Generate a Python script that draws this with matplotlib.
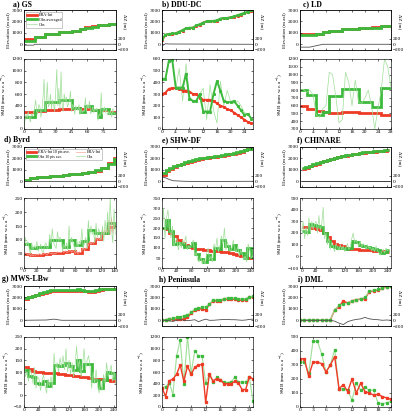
import matplotlib
matplotlib.use('Agg')
import matplotlib.pyplot as plt
import numpy as np

plt.rcParams['font.family'] = ['Liberation Serif', 'DejaVu Serif']
plt.rcParams['mathtext.fontset'] = 'stix'

RED = '#ee3b26'
GREEN = '#3dba3d'
LGREEN = '#9fdf98'
LRED = '#f5a89c'
GREY = '#505050'

# ---------------- a) GS ----------------
edges_a = [0, 10, 20, 33, 45, 53, 58, 64, 70, 73, 80, 87]
elev_era_a = [450, 650, 900, 1050, 1200, 1320, 1480, 1580, 1700, 1720, 1800]
elev_obs_a = [300, 620, 880, 1050, 1200, 1300, 1450, 1550, 1650, 1700, 1800]
smb_era_a = [300, 310, 330, 350, 360, 340, 350, 320, 300, 320, 300]
smb_obs_a = [200, 330, 460, 490, 360, 300, 390, 330, 210, 340, 280]
raw_obs_a = [40, 150, 250, 180, 300, 200, 120, 260, 220, 280,
             350, 500, 300, 250, 420, 380, 200, 330, 550, 850,
             300, 450, 800, 380, 420, 600, 350, 500, 420, 300, 650, 1020, 400,
             700, 350, 980, 450, 300, 600, 480, 550, 380, 420, 500, 650,
             300, 420, 380, 250, 400, 350, 320, 420,
             250, 350, 280, 320, 300,
             540, 300, 420, 350, 480, 260,
             300, 380, 280, 350, 320, 360,
             150, 250, 230,
             620, 250, 300, 380, 280, 350, 240,
             300, 250, 320, 200, 350, 280, 260]
dz_x_a = [0, 9, 10, 87]
dz_a = [-30, -30, 0, 0]

# ---------------- b) DDU-DC ----------------
x_b = list(range(27))
elev_era_b = [350, 800, 900, 900, 950, 1100, 1200, 1400, 1400, 1450, 1600, 1700, 1900, 2000,
              2000, 2000, 2050, 2200, 2300, 2300, 2350, 2400, 2500, 2600, 2700, 2850, 2950]
elev_obs_b = [450, 850, 900, 950, 950, 1100, 1250, 1400, 1450, 1450, 1650, 1750, 1900, 2000,
              2000, 2050, 2100, 2250, 2300, 2300, 2350, 2450, 2550, 2650, 2750, 2850, 3000]
smb_era_b = [300, 310, 345, 350, 350, 345, 330, 330, 320, 300, 300, 270, 250, 250,
             250, 240, 220, 200, 190, 170, 160, 140, 120, 100, 80, 60, 50]
smb_obs_b = [430, 430, 585, 590, 355, 355, 355, 475, 260, 240, 240, 300, 150, 150,
             150, 300, 410, 330, 240, 230, 230, 240, 200, 160, 120, 130, 90]
raw_obs_b = [430, 430, 580, 600, 340, 520, 240, 560, 280, 240, 250, 300, 350, 80,
             380, 160, 50, 410, 200, 330, 230, 220, 240, 200, 140, 130, 80]
dz_x_b = [0, 1, 2, 26]
dz_b = [-60, 20, 10, 0]

# ---------------- c) LD ----------------
edges_c = [0, 2, 5, 7, 9, 13, 18, 22, 25, 28]
elev_era_c = [880, 880, 900, 1050, 1200, 1300, 1400, 1500, 1600]
elev_obs_c = [820, 850, 870, 1050, 1200, 1300, 1400, 1450, 1600]
smb_era_c = [590, 560, 530, 520, 510, 520, 510, 500, 480]
smb_obs_c = [800, 740, 480, 520, 720, 820, 650, 580, 830]
raw_obs_c = [800, 810, 770, 800, 740, 480, 450, 560, 600, 1030, 1000, 720, 380, 420, 1030,
             900, 600, 930, 650, 630, 700, 800, 600, 300, 570, 800, 1200, 1100, 830]
dz_x_c = [0, 3, 7, 28]
dz_c = [-100, -100, 0, 0]

# ---------------- d) Byrd ----------------
edges_d = [0, 10, 20, 30, 40, 50, 60, 70, 80, 90, 100, 110, 120, 130, 140, 143]
elev_era_d = [100, 250, 350, 400, 450, 500, 550, 600, 650, 700, 800, 900, 1200, 1600, 2000]
elev_obs_d = [150, 250, 350, 400, 450, 500, 550, 620, 680, 720, 820, 950, 1150, 1550, 1950]
smb_era_d = [50, 45, 48, 50, 52, 55, 58, 60, 55, 68, 88, 102, 125, 145, 150]
smb_obs_d = [85, 72, 75, 75, 100, 100, 75, 100, 83, 95, 135, 125, 125, 160, 145]
raw_obs_d = [60, 110, 80, 95, 70, 50, 90, 65, 80, 70, 95, 60, 70, 85, 60,
             55, 80, 90, 70, 75, 120, 85, 140, 90, 80, 70, 130, 95, 110, 95,
             60, 85, 70, 90, 65, 150, 80, 110, 90, 75, 60, 100, 75, 95, 85,
             140, 70, 90, 110, 70, 170, 110, 150, 120, 130, 90, 160, 110, 140, 125,
             100, 150, 95, 170, 120, 200, 120, 250, 140, 90, 210, 120]
raw_era_d = [45, 55, 50, 48, 52, 42, 48, 44, 47, 45, 50, 45, 52, 46, 48,
             48, 53, 50, 47, 52, 55, 50, 54, 49, 52, 52, 58, 54, 57, 54,
             60, 55, 62, 56, 57, 58, 63, 57, 62, 60, 52, 60, 50, 58, 55,
             60, 75, 62, 72, 70, 80, 95, 85, 92, 88, 95, 110, 98, 108, 100,
             110, 140, 115, 135, 125, 130, 170, 120, 180, 125, 160, 140]
dz_x_d = [0, 143]
dz_d = [0, 0]

# ---------------- e) SHW-DF ----------------
edges_e = list(range(0, 241, 10)) + [245]
elev_era_e = [550, 900, 1100, 1250, 1400, 1500, 1600, 1700, 1800, 1900, 1950, 2000, 2050,
              2100, 2150, 2200, 2250, 2300, 2350, 2400, 2500, 2600, 2700, 2800, 2900]
elev_obs_e = [700, 1000, 1150, 1300, 1450, 1550, 1650, 1750, 1850, 1950, 2000, 2050, 2100,
              2150, 2200, 2250, 2300, 2350, 2400, 2450, 2550, 2650, 2750, 2850, 2950]
smb_era_e = [200, 195, 175, 160, 140, 125, 115, 105, 100, 95, 93, 90, 88,
             86, 85, 83, 80, 78, 75, 70, 65, 60, 55, 52, 50]
smb_obs_e = [200, 240, 185, 120, 125, 120, 105, 110, 125, 70, 45, 30, 65,
             45, 100, 95, 140, 110, 95, 115, 90, 75, 50, 100, 55]
raw_obs_e = [180, 300, 150, 250, 290, 200, 150, 210, 110, 130, 150, 90, 130, 100, 140,
             120, 160, 90, 110, 100, 120, 140, 60, 80, 40, 30, 60, 20, 40, 20,
             70, 100, 40, 60, 30, 120, 90, 150, 80, 110, 160, 120, 200, 90, 130,
             110, 80, 100, 140, 90, 80, 110, 60, 90, 70, 40, 60, 30, 120, 90, 50, 60]
dz_x_e = [0, 10, 20, 30, 60, 100, 245]
dz_e = [150, 120, 60, 20, 0, -10, 0]

# ---------------- f) CHINARE ----------------
edges_f = list(range(0, 241, 10)) + [245]
elev_era_f = [1100, 1200, 1350, 1450, 1550, 1650, 1750, 1850, 1950, 2050, 2100, 2200, 2250,
              2300, 2350, 2400, 2450, 2500, 2520, 2550, 2600, 2620, 2650, 2680, 2700]
elev_obs_f = [1130, 1250, 1380, 1480, 1580, 1680, 1780, 1880, 1980, 2080, 2130, 2230, 2280,
              2330, 2380, 2430, 2480, 2530, 2550, 2580, 2630, 2650, 2680, 2710, 2730]
smb_era_f = [250, 250, 245, 240, 235, 225, 200, 170, 130, 110, 95, 85, 75,
             65, 62, 60, 58, 55, 52, 50, 48, 45, 42, 40, 40]
smb_obs_f = [220, 210, 280, 270, 260, 250, 200, 130, 90, 80, 75, 70, 65,
             70, 130, 120, 100, 90, 80, 70, 60, 50, 30, 40, 50]
raw_obs_f = [220, 300, 150, 250, 180, 330, 200, 300, 230, 280, 300, 200, 350, 220, 280,
             420, 150, 200, 100, 160, 60, 120, 90, 40, 110, 80, 50, 100, 60, 90,
             40, 80, 110, 60, 80, 150, 200, 120, 140, 110, 90, 130, 80, 110, 90,
             60, 100, 70, 80, 50, 70, 40, 90, 50, 30, 10, 40, 60, 30, 70, 50, 60]
dz_x_f = [0, 245]
dz_f = [0, 0]

# ---------------- g) MWS-LBw ----------------
edges_g = list(range(0, 241, 10)) + [245]
elev_era_g = [1900, 2000, 2100, 2200, 2300, 2400, 2500, 2600, 2600, 2600, 2600, 2600, 2600,
              2600, 2650, 2600, 2550, 2500, 2500, 2600, 2650, 2700, 2700, 2700, 2700]
elev_obs_g = [1950, 2050, 2150, 2250, 2350, 2450, 2550, 2650, 2650, 2650, 2650, 2650, 2650,
              2650, 2700, 2650, 2600, 2550, 2550, 2650, 2700, 2750, 2750, 2750, 2750]
smb_era_g = [120, 112, 105, 100, 98, 97, 96, 95, 94, 92, 90, 88, 86,
             84, 82, 80, 78, 75, 72, 70, 68, 66, 64, 63, 62]
smb_obs_g = [110, 85, 80, 55, 50, 60, 40, 55, 130, 125, 130, 140, 125,
             110, 150, 105, 135, 135, 60, 65, 30, 65, 100, 95, 75]
raw_obs_g = [150, 80, 100, 60, 110, 90, 50, 120, 30, 80, 70, 20, 60, 90, 40,
             10, 70, 40, 80, 30, 180, 110, 140, 100, 160, 120, 170, 110, 200, 100,
             150, 90, 140, 80, 130, 210, 120, 150, 80, 130, 200, 110, 150, 170, 120,
             30, 100, 50, 110, 40, 10, 60, 20, 90, 50, 140, 80, 100, 130, 60, 100, 50]
dz_x_g = [0, 60, 80, 100, 245]
dz_g = [0, 10, 40, 0, 0]

# ---------------- h) Peninsula ----------------
x_h = list(range(26))
elev_era_h = [50, 20, 100, 80, 100, 80, 100, 250, 600, 900, 1000, 1000, 900, 1400, 1700, 1700,
              1700, 1850, 1850, 1850, 1850, 1750, 1750, 1750, 2000, 2050]
elev_obs_h = [30, 50, 150, 200, 250, 300, 400, 500, 700, 1000, 1100, 1150, 1200, 1400, 1800,
              1800, 1800, 1900, 1950, 1950, 1950, 1900, 1900, 1900, 2050, 2100]
smb_era_h = [330, 180, 450, 480, 560, 720, 440, 700, 560, 680, 720, 730, 80, 560, 450, 480,
             470, 400, 400, 400, 440, 410, 300, 300, 520, 480]
smb_obs_h = [330, 350, 420, 210, 870, 1150, 400, 1200, 580, 960, 880, 880, 420, 550, 430,
             510, 460, 430, 420, 430, 510, 430, 430, 430, 510, 100]
dz_h = [0, 0, -20, -40, 0, 20, 0, -10, 0, 20, -50, 0, 40, 0, 0, 10, 20, 30, 30, 20, 20,
        10, 0, 10, 30, 40]

# ---------------- i) DML ----------------
x_i = list(range(22))
elev_era_i = [30, 30, 30, 30, 30, 30, 30, 30, 900, 1200, 1700, 1500, 1700, 1800, 1850, 1900,
              2500, 2600, 2650, 2800, 2950, 3000]
elev_obs_i = [60, 60, 60, 60, 60, 60, 60, 60, 900, 1300, 1400, 1500, 1700, 1800, 1900, 2000,
              2550, 2650, 2700, 2850, 2950, 3000]
smb_era_i = [345, 345, 220, 320, 320, 310, 250, 300, 360, 130, 160, 110, 200, 100, 170, 110,
             100, 85, 90, 75, 65, 55]
smb_obs_i = [320, 320, 240, 470, 470, 380, 250, 300, 410, 130, 130, 120, 50, 170, 120, 140,
             120, 120, 30, 25, 30, 40]
dz_i = [0, 0, 0, 0, 0, 0, 0, 0, -30, -100, -150, -50, 0, 30, 50, 100, 50, 30, 20, 0, 10, 0]

titles = ['a) GS', 'b) DDU-DC', 'c) LD', 'd) Byrd', 'e) SHW-DF', 'f) CHINARE',
          'g) MWS-LBw', 'h) Peninsula', 'i) DML']

W, H = 404, 420
fig = plt.figure(figsize=(W / 100, H / 100), dpi=100)
fig.patch.set_facecolor('white')


def pos(l, t, w, h):
    return [l / W, 1 - (t + h) / H, w / W, h / H]


col_l = [24, 162, 300]
col_w = [92, 91, 91]
up_t = [10, 147, 286]
lo_t = [59, 198, 337]
title_xy = [(13, 4), (162, 4), (303, 4), (4, 140), (162, 140), (297, 140),
            (2, 279), (159, 279), (298, 279)]

FS = 3.9


def style(ax, right=True):
    ax.tick_params(direction='in', length=1.6, width=0.4, labelsize=FS, pad=1.0,
                   top=True, right=right)
    for s in ax.spines.values():
        s.set_linewidth(0.45)


def make(idx):
    r, c = divmod(idx, 3)
    ax_e = fig.add_axes(pos(col_l[c], up_t[r], col_w[c], 40))
    ax_s = fig.add_axes(pos(col_l[c], lo_t[r], col_w[c], 70))
    ax_d = ax_e.twinx()
    style(ax_e, right=False)
    style(ax_s)
    style(ax_d)
    ax_d.tick_params(left=False)
    ax_e.set_ylim(-500, 3000)
    ax_e.set_yticks([0, 1000, 2000, 3000])
    ax_d.set_ylim(-200, 1200)
    ax_d.set_yticks([-200, 0, 200])
    ax_e.set_xticklabels([])
    ax_e.set_ylabel('Elevation (m asl)', fontsize=FS - 0.2, labelpad=1.0)
    ax_d.set_ylabel('ΔZ (m)', fontsize=FS - 0.2, rotation=270, labelpad=5)
    ax_d.yaxis.set_label_coords(1.12, 0.72)
    ax_s.set_ylabel('SMB (mm w.e. a$^{-1}$)', fontsize=FS - 0.2, labelpad=1.0)
    tx, ty = title_xy[idx]
    fig.text(tx / W, 1 - ty / H, titles[idx], fontsize=5.6, fontweight='bold', va='center')
    return ax_e, ax_d, ax_s


def finish(ax_e, ax_s, xlim, xticks, ylim, yticks):
    for ax in (ax_e, ax_s):
        ax.set_xlim(*xlim)
        ax.set_xticks(xticks)
    ax_e.set_xticklabels([])
    ax_s.set_ylim(*ylim)
    ax_s.set_yticks(yticks)


LW = 2.0

# a
ax_e, ax_d, ax_s = make(0)
h1 = ax_e.stairs(elev_era_a, edges_a, baseline=None, color=RED, lw=LW, label='ERA-Int')
h2 = ax_e.stairs(elev_obs_a, edges_a, baseline=None, color=GREEN, lw=LW, label='Obs averaged')
ax_d.plot(dz_x_a, dz_a, color=GREY, lw=0.6)
ax_s.plot(np.arange(len(raw_obs_a)), raw_obs_a, color=LGREEN, lw=0.5)
ax_s.stairs(smb_era_a, edges_a, baseline=None, color=RED, lw=LW)
ax_s.stairs(smb_obs_a, edges_a, baseline=None, color=GREEN, lw=LW)
h3, = ax_e.plot([], [], color=LGREEN, lw=0.5, label='Obs')
ax_e.legend(handles=[h1, h2, h3], loc='upper left', fontsize=3.0, frameon=True,
            fancybox=False, edgecolor='#888888', handlelength=2.2, borderpad=0.3,
            labelspacing=0.15, handletextpad=0.5).get_frame().set_linewidth(0.4)
finish(ax_e, ax_s, (0, 87), [0, 15, 30, 45, 60, 75], (0, 1200), range(0, 1201, 200))

# b
ax_e, ax_d, ax_s = make(1)
ax_e.plot(x_b, elev_era_b, color=RED, lw=1.4, marker='s', ms=1.2)
ax_e.plot(x_b, elev_obs_b, color=GREEN, lw=1.4, marker='s', ms=1.2)
ax_d.plot(dz_x_b, dz_b, color=GREY, lw=0.6)
ax_s.plot(x_b, raw_obs_b, color=LGREEN, lw=0.5)
ax_s.plot(x_b, smb_era_b, color=RED, lw=1.4, marker='s', ms=1.2)
ax_s.plot(x_b, smb_obs_b, color=GREEN, lw=1.4, marker='s', ms=1.2)
finish(ax_e, ax_s, (0, 26.5), range(0, 25, 4), (0, 600), range(0, 601, 100))

# c
ax_e, ax_d, ax_s = make(2)
ax_e.stairs(elev_era_c, edges_c, baseline=None, color=RED, lw=LW)
ax_e.stairs(elev_obs_c, edges_c, baseline=None, color=GREEN, lw=LW)
ax_d.plot(dz_x_c, dz_c, color=GREY, lw=0.6)
ax_s.plot(np.arange(len(raw_obs_c)), raw_obs_c, color=LGREEN, lw=0.5)
ax_s.stairs(smb_era_c, edges_c, baseline=None, color=RED, lw=LW)
ax_s.stairs(smb_obs_c, edges_c, baseline=None, color=GREEN, lw=LW)
finish(ax_e, ax_s, (0, 28), range(0, 29, 4), (300, 1200), range(300, 1201, 100))

# d
ax_e, ax_d, ax_s = make(3)
h1 = ax_e.stairs(elev_era_d, edges_d, baseline=None, color=RED, lw=LW, label='ERA-Int 10 pts ave.')
h2 = ax_e.stairs(elev_obs_d, edges_d, baseline=None, color=GREEN, lw=LW, label='Obs 10 pts ave.')
ax_d.plot(dz_x_d, dz_d, color=GREY, lw=0.6)
xr_d = np.arange(0, 143, 2)
h3, = ax_s.plot(xr_d, raw_era_d, color=LRED, lw=0.5, label='ERA-Int')
h4, = ax_s.plot(xr_d, raw_obs_d, color=LGREEN, lw=0.5, ls='-', label='Obs')
ax_s.stairs(smb_era_d, edges_d, baseline=None, color=RED, lw=LW)
ax_s.stairs(smb_obs_d, edges_d, baseline=None, color=GREEN, lw=LW)
leg = ax_e.legend(handles=[h1, h2, h3, h4], loc='upper left', ncol=2, fontsize=2.9,
                  frameon=True, fancybox=False, edgecolor='#888888', handlelength=2.2,
                  borderpad=0.3, labelspacing=0.15, handletextpad=0.5, columnspacing=1.5)
leg.get_frame().set_linewidth(0.4)
finish(ax_e, ax_s, (0, 143), range(0, 141, 20), (0, 250), range(0, 251, 50))

# e
ax_e, ax_d, ax_s = make(4)
ax_e.stairs(elev_era_e, edges_e, baseline=None, color=RED, lw=LW)
ax_e.stairs(elev_obs_e, edges_e, baseline=None, color=GREEN, lw=LW)
ax_d.plot(dz_x_e, dz_e, color=GREY, lw=0.6)
ax_s.plot(np.arange(0, 245, 4), raw_obs_e, color=LGREEN, lw=0.5)
ax_s.stairs(smb_era_e, edges_e, baseline=None, color=RED, lw=LW)
ax_s.stairs(smb_obs_e, edges_e, baseline=None, color=GREEN, lw=LW)
finish(ax_e, ax_s, (0, 245), range(0, 241, 40), (0, 350), range(0, 351, 50))

# f
ax_e, ax_d, ax_s = make(5)
ax_e.stairs(elev_era_f, edges_f, baseline=None, color=RED, lw=LW)
ax_e.stairs(elev_obs_f, edges_f, baseline=None, color=GREEN, lw=LW)
ax_d.plot(dz_x_f, dz_f, color='#202020', lw=0.6)
ax_s.plot(np.arange(0, 245, 4), raw_obs_f, color=LGREEN, lw=0.5)
ax_s.stairs(smb_era_f, edges_f, baseline=None, color=RED, lw=LW)
ax_s.stairs(smb_obs_f, edges_f, baseline=None, color=GREEN, lw=LW)
finish(ax_e, ax_s, (-5, 250), range(0, 241, 40), (-100, 500), range(-100, 501, 100))

# g
ax_e, ax_d, ax_s = make(6)
ax_e.stairs(elev_era_g, edges_g, baseline=None, color=RED, lw=LW)
ax_e.stairs(elev_obs_g, edges_g, baseline=None, color=GREEN, lw=LW)
ax_d.plot(dz_x_g, dz_g, color=GREY, lw=0.6)
ax_s.plot(np.arange(0, 245, 4), raw_obs_g, color=LGREEN, lw=0.5)
ax_s.stairs(smb_era_g, edges_g, baseline=None, color=RED, lw=LW)
ax_s.stairs(smb_obs_g, edges_g, baseline=None, color=GREEN, lw=LW)
finish(ax_e, ax_s, (0, 245), range(0, 241, 40), (-50, 250), range(-50, 251, 50))

# h
ax_e, ax_d, ax_s = make(7)
ax_e.plot(x_h, elev_era_h, color=RED, lw=1.0, marker='s', ms=1.4)
ax_e.plot(x_h, elev_obs_h, color=LGREEN, lw=0.8, marker='s', ms=1.4, mfc=GREEN, mec=GREEN)
ax_d.plot(x_h, dz_h, color=GREY, lw=0.6)
ax_s.plot(x_h, smb_obs_h, color=LGREEN, lw=0.8, marker='s', ms=1.4, mfc=GREEN, mec=GREEN)
ax_s.plot(x_h, smb_era_h, color=RED, lw=1.0, marker='s', ms=1.4)
finish(ax_e, ax_s, (0, 25), range(0, 25, 4), (0, 1200), range(0, 1201, 200))

# i
ax_e, ax_d, ax_s = make(8)
ax_e.plot(x_i, elev_era_i, color=RED, lw=1.0, marker='s', ms=1.4)
ax_e.plot(x_i, elev_obs_i, color=LGREEN, lw=0.8, marker='s', ms=1.4, mfc=GREEN, mec=GREEN)
ax_d.plot(x_i, dz_i, color=GREY, lw=0.6)
ax_s.plot(x_i, smb_obs_i, color=LGREEN, lw=0.8, marker='s', ms=1.4, mfc=GREEN, mec=GREEN)
ax_s.plot(x_i, smb_era_i, color=RED, lw=1.0, marker='s', ms=1.4)
finish(ax_e, ax_s, (0, 21), range(0, 22, 3), (0, 500), range(0, 501, 100))

fig.savefig('out.png', dpi=100, facecolor='white')
